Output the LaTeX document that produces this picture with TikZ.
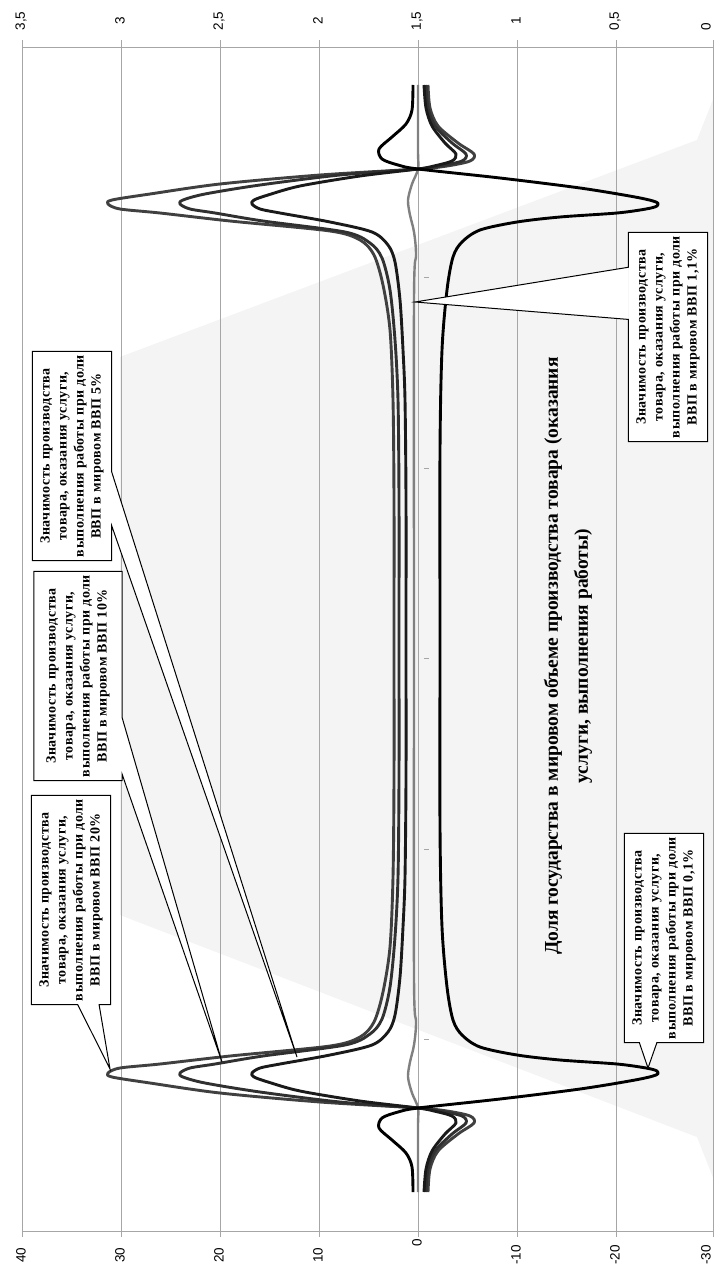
\documentclass[tikz,border=0pt]{standalone}
\usepackage{fontspec}
\setmainfont{Liberation Serif}
\setsansfont{Liberation Sans}
\usetikzlibrary{calc}
\definecolor{bggray}{HTML}{F4F4F4}
\definecolor{grline}{HTML}{A6A6A6}
\definecolor{s20}{HTML}{404040}
\definecolor{s10}{HTML}{303030}
\definecolor{s5}{HTML}{1A1A1A}
\definecolor{s11}{HTML}{808080}

\begin{document}
\begin{tikzpicture}[x=1pt,y=-1pt,
  grd/.style={grline, line width=0.9pt},
  ax/.style={font=\sffamily\fontsize{13.5}{13.5}\selectfont, rotate=90, inner sep=0pt},
  cbox/.style={rotate=90, fill=white, align=center, inner sep=0pt, minimum width=209pt, minimum height=79pt, font=\bfseries\addfontfeatures{LetterSpace=4}\fontsize{14}{17}\selectfont},
  cline/.style={draw=black, line width=1pt},
  ser/.style={line width=2.9pt, line join=round}]
\useasboundingbox (0,0) rectangle (714,1276);
\fill[white] (0,0) rectangle (714,1276);

% area on the secondary axis
\fill[bggray] (714,97) -- (697,140) -- (120,357) -- (120,915) -- (697,1137) -- (714,1180) -- cycle;

% grid and axes
\draw[grd] (22,40) -- (22,1237);
\draw[grd] (121,40) -- (121,1237);
\draw[grd] (220,40) -- (220,1237);
\draw[grd] (319,40) -- (319,1237);
\draw[grd] (418,40) -- (418,1237);
\draw[grd] (517,40) -- (517,1237);
\draw[grd] (616,40) -- (616,1237);
\draw[grd] (713.5,40) -- (713.5,1237);
\draw[grd] (22,47) -- (714,47);
\draw[grd] (22,1231) -- (714,1231);
\draw[grd] (424,277) -- (429,277);
\draw[grd] (424,468) -- (429,468);
\draw[grd] (424,658) -- (429,658);
\draw[grd] (424,849) -- (429,849);
\draw[grd] (424,1039) -- (429,1039);

% secondary axis labels
\node[ax] (s35) at (21,21) {3,5};
\node[ax] (s30) at (120,21) {3};
\node[ax] (s25) at (219,21) {2,5};
\node[ax] (s20) at (318,21) {2};
\node[ax] (s15) at (417,21) {1,5};
\node[ax] (s10) at (516,21) {1};
\node[ax] (s05) at (615,21) {0,5};
\node[ax] (s00) at (706,27) {0};

% primary axis labels
\node[ax] (p40) at (21,1255) {40};
\node[ax] (p30) at (120,1255) {30};
\node[ax] (p20) at (219,1255) {20};
\node[ax] (p10) at (318,1255) {10};
\node[ax] (p00) at (417,1243) {0};
\node[ax] (pm10) at (516,1255) {-10};
\node[ax] (pm20) at (615,1255) {-20};
\node[ax] (pm30) at (706,1255) {-30};

% series
\draw[ser, s11, line width=2.4pt] plot[smooth] coordinates {(418,85) (418,150) (418,169) (412,184) (408,200) (410,215) (414,232) (416,255) (414,300) (414,638) (414,977) (416,1022) (414,1045) (410,1062) (408,1077) (412,1093) (418,1108) (418,1127) (418,1192)};
\draw[ser, s20] plot[smooth] coordinates {(428,85) (430,108) (438,126) (458,143) (474,154) (470,161) (447,166) (418,169) (320,175) (220,184) (150,194) (112,200) (108,204) (120,209) (160,213) (230,221) (330,231) (360,240) (374,255) (383,285) (390,330) (393,400) (394,500) (394,638) (394,777) (393,877) (390,947) (383,992) (374,1022) (360,1037) (330,1046) (230,1056) (160,1064) (120,1068) (108,1073) (112,1077) (150,1083) (220,1093) (320,1102) (418,1108) (447,1111) (470,1116) (474,1123) (458,1134) (438,1151) (430,1169) (428,1192)};
\draw[ser, s10] plot[smooth] coordinates {(426,85) (428,108) (435,126) (452,143) (466,154) (462,161) (440,166) (418,169) (340,175) (260,185) (205,194) (183,200) (180,204) (190,209) (215,213) (263,221) (345,232) (370,243) (382,258) (390,290) (395,340) (398,400) (399,500) (399,638) (399,777) (398,877) (395,937) (390,987) (382,1019) (370,1034) (345,1045) (263,1056) (215,1064) (190,1068) (180,1073) (183,1077) (205,1083) (260,1092) (340,1102) (418,1108) (440,1111) (462,1116) (466,1123) (452,1134) (435,1151) (428,1169) (426,1192)};
\draw[ser, s5] plot[smooth] coordinates {(424,85) (426,108) (432,126) (445,143) (456,154) (452,161) (434,166) (418,169) (360,176) (300,186) (268,195) (254,200) (252,204) (260,209) (280,213) (330,222) (372,232) (388,245) (395,262) (400,300) (403,350) (405,400) (406,500) (406,638) (406,777) (405,877) (403,927) (400,977) (395,1015) (388,1032) (372,1045) (330,1055) (280,1064) (260,1068) (252,1073) (254,1077) (268,1082) (300,1091) (360,1101) (418,1108) (434,1111) (452,1116) (456,1123) (445,1134) (432,1151) (426,1169) (424,1192)};
\draw[ser, black] plot[smooth] coordinates {(413,85) (412,110) (406,124) (392,137) (379,149) (382,159) (398,165) (418,169) (500,178) (580,188) (635,197) (656,202) (657,206) (646,209) (617,213) (560,217) (517,222) (480,230) (462,242) (453,257) (447,290) (442,350) (440,450) (440,638) (440,827) (442,927) (447,987) (453,1020) (462,1035) (480,1047) (517,1055) (560,1060) (617,1064) (646,1068) (657,1071) (656,1075) (635,1080) (580,1089) (500,1099) (418,1108) (398,1112) (382,1118) (379,1128) (392,1140) (406,1153) (412,1167) (413,1192)};

% title
\node[rotate=90, align=center, font=\bfseries\fontsize{19.5}{30}\selectfont] (ttl) at (568,656) {Доля государства в мировом объеме производства товара (оказания\\услуги, выполнения работы)};

% callouts
\coordinate (t20) at (110,1069);
\coordinate (t10) at (222,1062);
\coordinate (t5) at (297,1057);
\coordinate (t11) at (415,302);
\coordinate (t01) at (648,1068);

\node[cbox] (b5) at (72,456) {Значимость производства\\товара, оказания услуги,\\выполнения работы при доли\\ВВП в мировом ВВП 5\%};
\fill[white] ($(b5.south east)!.576!(b5.south west)$) -- (t5) -- ($(b5.south east)!.833!(b5.south west)$) -- cycle;
\draw[cline] (b5.north east) -- (b5.south east) -- ($(b5.south east)!.576!(b5.south west)$) -- (t5) -- ($(b5.south east)!.833!(b5.south west)$) -- (b5.south west) -- (b5.north west) -- cycle;

\node[cbox, minimum height=88pt] (b10) at (78,676) {Значимость производства\\товара, оказания услуги,\\выполнения работы при доли\\ВВП в мировом ВВП 10\%};
\fill[white] ($(b10.south east)!.70!(b10.south west)$) -- (t10) -- ($(b10.south east)!.97!(b10.south west)$) -- cycle;
\draw[cline] (b10.north east) -- (b10.south east) -- ($(b10.south east)!.70!(b10.south west)$) -- (t10) -- ($(b10.south east)!.97!(b10.south west)$) -- (b10.south west) -- (b10.north west) -- cycle;

\node[cbox] (b20) at (71,900) {Значимость производства\\товара, оказания услуги,\\выполнения работы при доли\\ВВП в мировом ВВП 20\%};
\fill[white] ($(b20.north west)!.585!(b20.south west)$) -- (t20) -- ($(b20.north west)!.854!(b20.south west)$) -- cycle;
\draw[cline] (b20.north east) -- (b20.south east) -- (b20.south west) -- ($(b20.north west)!.854!(b20.south west)$) -- (t20) -- ($(b20.north west)!.585!(b20.south west)$) -- (b20.north west) -- cycle;

\node[cbox] (b11) at (668,337) {Значимость производства\\товара, оказания услуги,\\выполнения работы при доли\\ВВП в мировом ВВП 1,1\%};
\fill[white] ($(b11.north east)!.167!(b11.north west)$) -- (t11) -- ($(b11.north east)!.416!(b11.north west)$) -- cycle;
\draw[cline] (b11.north east) -- ($(b11.north east)!.167!(b11.north west)$) -- (t11) -- ($(b11.north east)!.416!(b11.north west)$) -- (b11.north west) -- (b11.south west) -- (b11.south east) -- cycle;

\node[cbox] (b01) at (664,938) {Значимость производства\\товара, оказания услуги,\\выполнения работы при доли\\ВВП в мировом ВВП 0,1\%};
\fill[white] ($(b01.north west)!.19!(b01.south west)$) -- (t01) -- ($(b01.north west)!.41!(b01.south west)$) -- cycle;
\draw[cline] (b01.north east) -- (b01.south east) -- (b01.south west) -- ($(b01.north west)!.41!(b01.south west)$) -- (t01) -- ($(b01.north west)!.19!(b01.south west)$) -- (b01.north west) -- cycle;

\end{tikzpicture}
\end{document}
